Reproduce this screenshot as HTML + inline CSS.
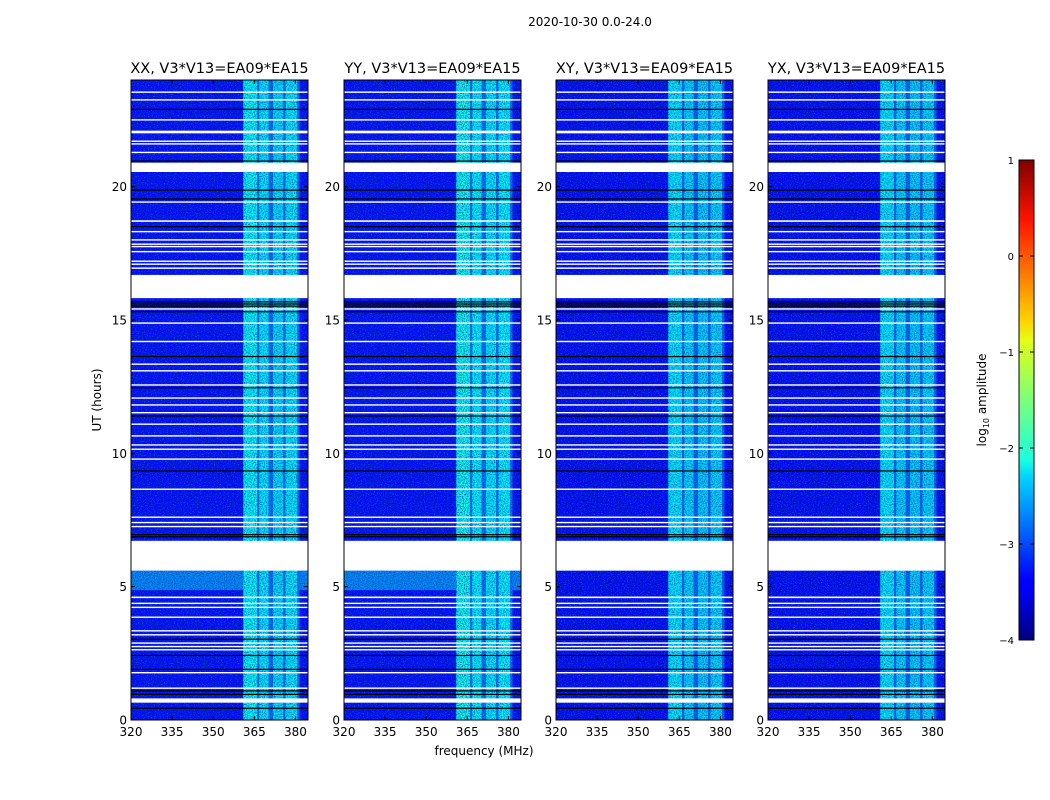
<!DOCTYPE html>
<html><head><meta charset="utf-8"><style>
html,body{margin:0;padding:0;background:#fff;}
svg{display:block;font-family:"DejaVu Sans","Liberation Sans",sans-serif;}
</style></head><body>
<svg id="fig" width="1050" height="800" viewBox="0 0 1050 800">
<defs>
<filter id="noise" x="0" y="0" width="100%" height="100%">
<feTurbulence type="fractalNoise" baseFrequency="0.9" numOctaves="1" seed="3" result="t"/>
<feColorMatrix type="matrix" values="0 0 0 0 0  0 0 0 0 0.05  0 0 0 0 0.35  2.4 0 0 0 -0.95" />
</filter>
<filter id="noise2" x="0" y="0" width="100%" height="100%">
<feTurbulence type="fractalNoise" baseFrequency="0.7 0.9" numOctaves="1" seed="11"/>
<feColorMatrix type="matrix" values="0 0 0 0 0.3  0 0 0 0 0.9  0 0 0 0 1  0 2.4 0 0 -1.3" />
</filter>
<linearGradient id="jet" x1="0" y1="1" x2="0" y2="0">
<stop offset="0" stop-color="#00007f"/><stop offset="0.11" stop-color="#0000ff"/>
<stop offset="0.125" stop-color="#0000ff"/><stop offset="0.34" stop-color="#00d4ff"/>
<stop offset="0.375" stop-color="#19ffde"/><stop offset="0.5" stop-color="#7cff79"/>
<stop offset="0.625" stop-color="#e4ff13"/><stop offset="0.66" stop-color="#ffd700"/>
<stop offset="0.875" stop-color="#ff1300"/><stop offset="1" stop-color="#7f0000"/>
</linearGradient>
</defs>
<text x="590" y="26" font-size="12" text-anchor="middle">2020-10-30 0.0-24.0</text>
<text x="484" y="755" font-size="12" text-anchor="middle">frequency (MHz)</text>
<text transform="translate(101,400) rotate(-90)" font-size="12" text-anchor="middle">UT (hours)</text>
<g id="panels"></g>
<g id="cbar">
<rect x="1019" y="160" width="15" height="480" fill="url(#jet)" stroke="#000" stroke-width="1"/>
<text transform="translate(986,400) rotate(-90)" font-size="12" text-anchor="middle">log<tspan font-size="8" dy="3">10</tspan><tspan dy="-3"> amplitude</tspan></text>
</g>
</svg>
<script>
const NS='http://www.w3.org/2000/svg';
const panelTitles=['XX, V3*V13=EA09*EA15','YY, V3*V13=EA09*EA15','XY, V3*V13=EA09*EA15','YX, V3*V13=EA09*EA15'];
const freqTicks=[320,335,350,365,380];
const hourTicks=[0,5,10,15,20];
const cbarTicks=[1,0,-1,-2,-3,-4];
const bgLevel=[-3.35,-3.35,-3.4,-3.4];
const wideBand=[360.9,381.5,-2.85];
const bands=[[361,366,-2.1],[366.8,370.2,-2.2],[371.8,375.5,-2.25],[376.4,380.6,-2.2]];
const bandStrength=[1,1.05,0.92,0.92];
const lightRows=[[4.87,5.6,-2.7]];
const lightRowPanels=[1,1,0,0];
const flagged=[[5.6,6.72],[15.82,16.69],[20.55,20.9],[0.65,0.81],[22.0,22.1],[18.68,18.74],[4.57,4.63]];
const whiteLines=[23.54,23.25,22.5,21.7,21.6,21.28,19.42,18.31,18.0,17.84,17.75,17.56,17.2,17.09,16.94,15.41,14.88,14.19,13.34,13.09,12.56,12.07,11.81,11.52,11.09,10.65,10.31,10.15,9.78,8.65,7.6,7.4,7.25,4.37,4.22,3.85,3.34,3.19,2.88,2.75,2.63,1.77,1.19];
const blackLines=[22.9,20.96,19.87,19.54,18.5,15.52,15.6,15.68,15.31,13.63,12.46,11.4,9.34,6.87,6.95,3.03,2.42,1.9,1.09,0.96,0.44];
const panelLeft=[131,344,556,768];
const PW=177, PT=80, PB=720, FMIN=320, FMAX=384.6, HMAX=24;
function jet(v){const t=Math.max(0,Math.min(1,(v+4)/5));
 const r=Math.max(0,Math.min(1,1.5-Math.abs(4*t-3))),g=Math.max(0,Math.min(1,1.5-Math.abs(4*t-2))),b=Math.max(0,Math.min(1,1.5-Math.abs(4*t-1)));
 return 'rgb('+Math.round(r*255)+','+Math.round(g*255)+','+Math.round(b*255)+')';}
function mk(tag,at,parent){const e=document.createElementNS(NS,tag);for(const k in at)e.setAttribute(k,at[k]);parent.appendChild(e);return e;}
const yS=h=>PB-(h/HMAX)*(PB-PT);
const root=document.getElementById('panels');
panelLeft.forEach((L,p)=>{
 const xS=f=>L+(f-FMIN)/(FMAX-FMIN)*PW;
 const lv=v=>bgLevel[p]+(v-bgLevel[p])*bandStrength[p];
 const g=mk('g',{},root);
 
 
 const bg=mk('rect',{x:L,y:PT,width:PW,height:PB-PT,fill:jet(bgLevel[p])},g);
 
 
 if(lightRowPanels[p]) lightRows.forEach(r=>{const e=mk('rect',{x:L,y:yS(r[1]),width:PW,height:yS(r[0])-yS(r[1]),fill:jet(r[2])},g);
  
  });
 const wb=mk('rect',{x:xS(wideBand[0]),y:PT,width:xS(wideBand[1])-xS(wideBand[0]),height:PB-PT,fill:jet(lv(wideBand[2]))},g);
 
 
 bands.forEach(b=>{const e=mk('rect',{x:xS(b[0]),y:PT,width:xS(b[1])-xS(b[0]),height:PB-PT,fill:jet(lv(b[2]))},g);
  
  });
 mk('rect',{x:L,y:PT,width:PW,height:PB-PT,filter:'url(#noise)',fill:'#000'},g);
 mk('rect',{x:L,y:PT,width:PW,height:PB-PT,filter:'url(#noise2)',fill:'#000',opacity:0.35},g);
 flagged.forEach(r=>{const e=mk('rect',{x:L,y:yS(r[1]),width:PW,height:yS(r[0])-yS(r[1]),fill:'#fff'},g);
  
  });
 whiteLines.forEach(h=>{const e=mk('rect',{x:L,y:yS(h)-0.8,width:PW,height:1.4,fill:'#fff'},g);
  
  });
 blackLines.forEach(h=>{const e=mk('rect',{x:L,y:yS(h)-0.6,width:PW,height:1.2,fill:'#000'},g);
  
  });
 const fr=mk('rect',{x:L,y:PT,width:PW,height:PB-PT,fill:'none',stroke:'#000','stroke-width':1},g);
 
 
 const t=mk('text',{x:L+PW/2,y:73,'font-size':14.5,'text-anchor':'middle'},g);t.textContent=panelTitles[p];
 
 
 freqTicks.forEach(f=>{const x=xS(f);
  mk('line',{x1:x,x2:x,y1:PB,y2:PB-4,stroke:'#000'},g);mk('line',{x1:x,x2:x,y1:PT,y2:PT+4,stroke:'#000'},g);
  const e=mk('text',{x:x,y:736,'font-size':12,'text-anchor':'middle'},g);e.textContent=f;
  
  });
 hourTicks.forEach(h=>{const y=yS(h);
  mk('line',{x1:L,x2:L+4,y1:y,y2:y,stroke:'#000'},g);mk('line',{x1:L+PW,x2:L+PW-4,y1:y,y2:y,stroke:'#000'},g);
  const e=mk('text',{x:L-4,y:y+4.5,'font-size':12,'text-anchor':'end'},g);e.textContent=h;
  
  });
});
const cb=document.getElementById('cbar');
cbarTicks.forEach(v=>{const y=160+(1-v)/5*480;
 mk('line',{x1:1019,x2:1023,y1:y,y2:y,stroke:'#000'},cb);mk('line',{x1:1034,x2:1030,y1:y,y2:y,stroke:'#000'},cb);
 const e=mk('text',{x:1014,y:y+4,'font-size':10,'text-anchor':'end'},cb);e.textContent=(v<0?'\u2212'+(-v):v);
 
 });
</script>
</body></html>
